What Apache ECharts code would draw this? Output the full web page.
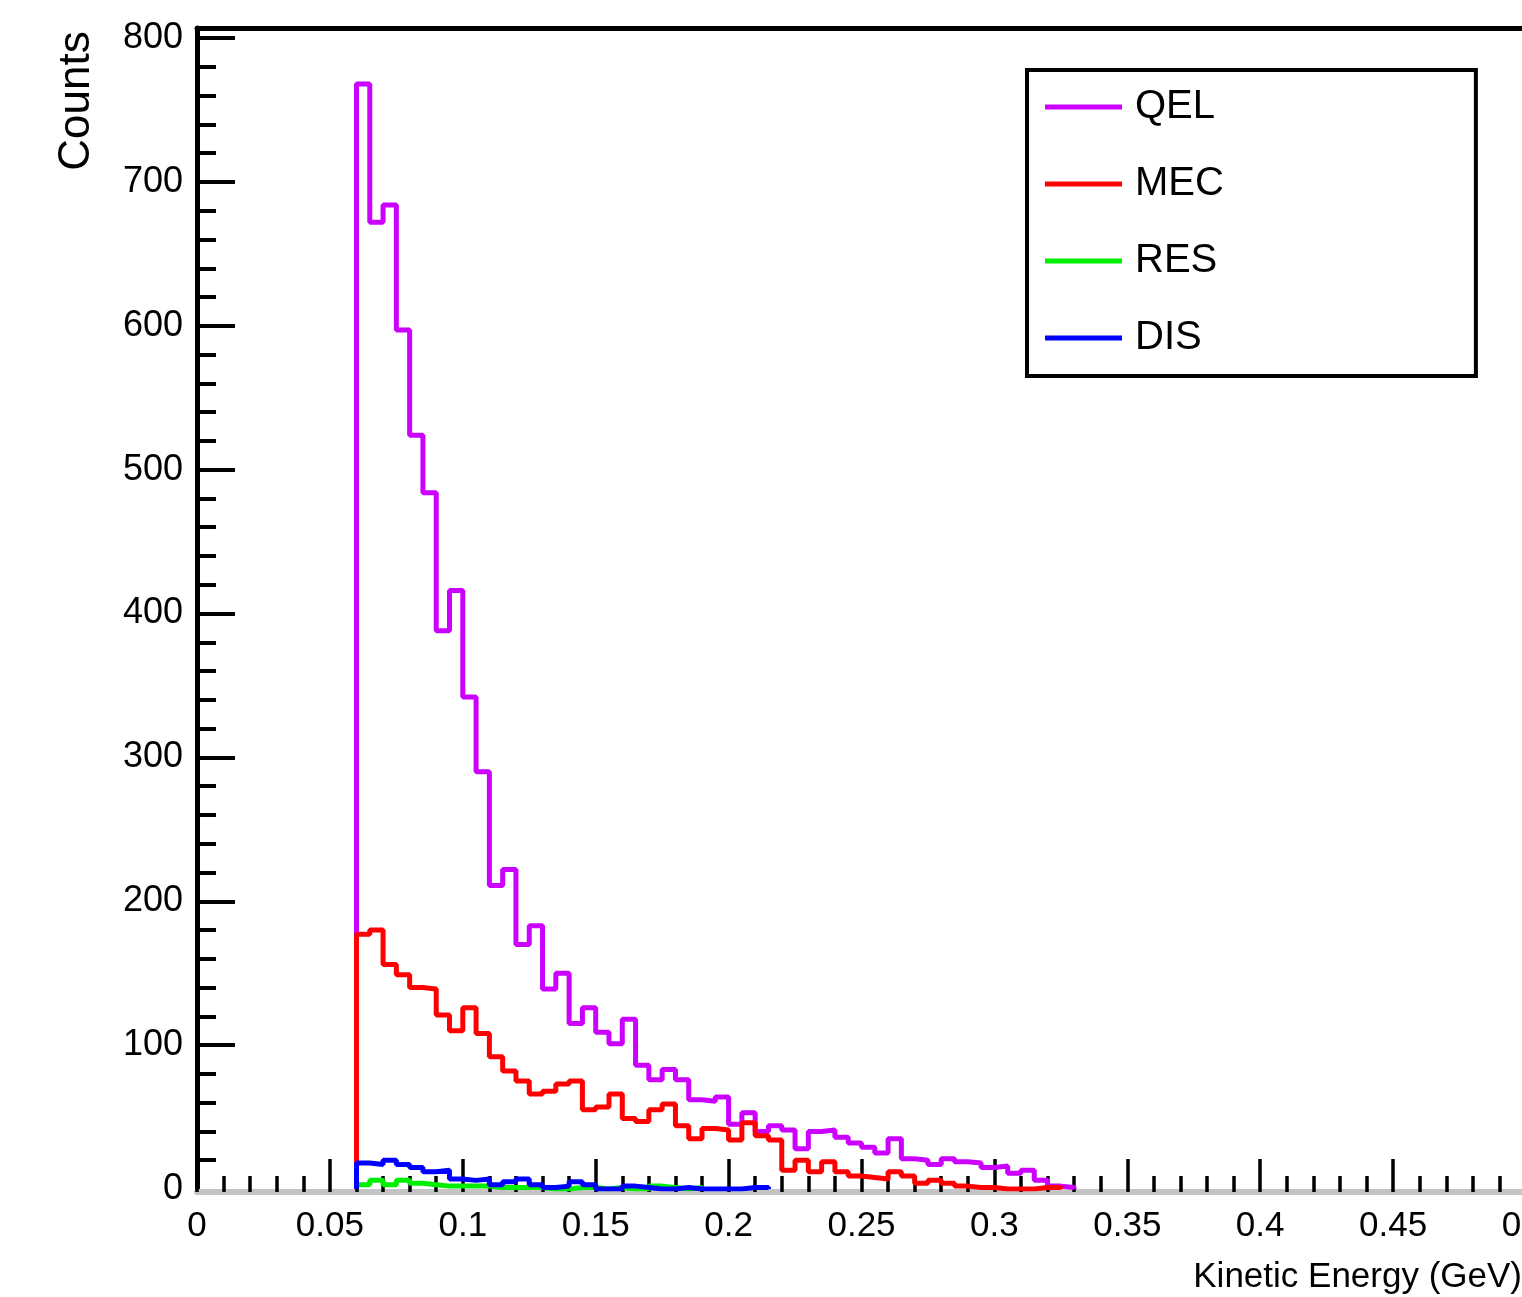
<!DOCTYPE html>
<html>
<head>
<meta charset="utf-8">
<script src="https://cdn.jsdelivr.net/npm/echarts@6/dist/echarts.min.js"></script>
<style>
html, body { margin: 0; padding: 0; background: #fff; }
#chart { width: 1522px; height: 1297px; }
</style>
</head>
<body>
<div id="chart"></div>
<script>
// histogram bins: 0.005 GeV wide, first filled bin starts at 0.06
var binStart = 0.06;
var binWidth = 0.005;

var qel = [768, 672, 684, 597, 524, 484, 388, 416, 342, 290, 211, 222, 170, 183, 139, 150,
           115, 126, 109, 101, 118, 86, 76, 83, 76, 62, 61, 64, 45, 53, 40, 44, 41, 28, 40, 41,
           36, 32, 29, 25, 35, 21, 20, 17, 21, 19, 18, 15, 16, 11, 13, 6, 2, 1];
var mec = [177, 180, 156, 149, 140, 139, 121, 110, 126, 108, 92, 82, 75, 66, 68, 73,
           75, 55, 57, 66, 49, 47, 55, 59, 44, 35, 42, 41, 34, 46, 37, 34, 13, 20, 12, 19,
           12, 9, 8, 7, 12, 9, 4, 6, 4, 2, 1, 1, 0, 0, 0, 1, 1];
var res = [3, 6, 3, 6, 4, 3, 2, 2, 2, 2, 1, 1, 1, 1, 0, 0, 1, 1, 0, 1, 0, 0, 2, 1, 0, 1];
var dis = [18, 17, 20, 17, 15, 12, 13, 7, 6, 7, 3, 5, 7, 3, 1, 2, 5, 3, 0, 0, 2, 1, 0, 0, 1,
           0, 0, 0, 0, 1, 1];

var names = ['QEL', 'MEC', 'RES', 'DIS'];
var colors = ['#cc00ff', '#ff0000', '#00ee00', '#0000ff'];

var yLabelValues = [0, 100, 200, 300, 400, 500, 600, 700, 800];
var yMajorTicks = [100, 200, 300, 400, 500, 600, 700, 800];
var yMinorTicks = [];
for (var t = 20; t <= 800; t += 20) yMinorTicks.push(t);

var font = '"Liberation Sans", Arial, sans-serif';

function toSteps(counts) {
    var pts = [[binStart, 0]];
    for (var i = 0; i < counts.length; i++) {
        pts.push([+(binStart + i * binWidth).toFixed(4), counts[i]]);
    }
    pts.push([+(binStart + counts.length * binWidth).toFixed(4), 0]);
    return pts;
}

var allData = [qel, mec, res, dis];
var series = [];
for (var k = 0; k < names.length; k++) {
    series.push({
        name: names[k],
        type: 'line',
        step: 'end',
        showSymbol: false,
        color: colors[k],
        lineStyle: { width: 5, color: colors[k] },
        itemStyle: { color: colors[k] },
        data: toSteps(allData[k])
    });
}

var chart = echarts.init(document.getElementById('chart'));
chart.setOption({
    animation: false,
    backgroundColor: '#fff',
    grid: { left: 197, right: -4, top: 28, bottom: 108, outerBoundsMode: 'none', containLabel: false },
    graphic: [{
        type: 'text',
        x: 77,
        y: 101,
        rotation: Math.PI / 2,
        style: { text: 'Counts', fontFamily: font, fontSize: 44, fill: '#000', align: 'center', verticalAlign: 'middle' }
    }],
    legend: {
        orient: 'vertical',
        left: 1027,
        top: 70,
        icon: 'rect',
        itemWidth: 77,
        itemHeight: 5,
        itemGap: 27,
        padding: [12, 252, 13, 18],
        backgroundColor: '#fff',
        borderColor: '#000',
        borderWidth: 4,
        textStyle: { fontFamily: font, fontSize: 40, color: '#000', lineHeight: 50, padding: [0, 0, 0, 8] },
        data: names
    },
    xAxis: [{
        type: 'value',
        min: 0,
        max: 0.5,
        interval: 0.05,
        offset: 3,
        name: 'Kinetic Energy (GeV)',
        nameLocation: 'end',
        nameGap: -4,
        nameTextStyle: { fontFamily: font, fontSize: 35, color: '#000', align: 'right', verticalAlign: 'top', padding: [68, 0, 0, 0] },
        axisLine: { show: true, onZero: false, lineStyle: { color: '#c4c4c4', width: 6 } },
        axisTick: { show: true, inside: true, length: 33, lineStyle: { color: '#000', width: 3.5 } },
        minorTick: { show: true, splitNumber: 5, length: 16, lineStyle: { color: '#000', width: 3.5 } },
        axisLabel: { fontFamily: font, fontSize: 35, color: '#000', margin: 17 },
        splitLine: { show: false }
    }, {
        type: 'value',
        position: 'top',
        min: 0,
        max: 0.5,
        axisLine: { show: true, onZero: false, lineStyle: { color: '#000', width: 5 } },
        axisTick: { show: false },
        axisLabel: { show: false },
        splitLine: { show: false }
    }],
    yAxis: [{
        type: 'value',
        min: 0,
        max: 807,
        axisLine: { show: true, onZero: false, lineStyle: { color: '#000', width: 5 } },
        axisTick: { show: true, inside: true, length: 38, customValues: yMajorTicks, lineStyle: { color: '#000', width: 4 } },
        axisLabel: { fontFamily: font, fontSize: 36, color: '#000', margin: 14, customValues: yLabelValues },
        splitLine: { show: false }
    }, {
        type: 'value',
        min: 0,
        max: 807,
        position: 'left',
        axisLine: { show: false },
        axisTick: { show: true, inside: true, length: 19, customValues: yMinorTicks, lineStyle: { color: '#000', width: 4 } },
        axisLabel: { show: false },
        splitLine: { show: false }
    }],
    series: series
});
</script>
</body>
</html>
